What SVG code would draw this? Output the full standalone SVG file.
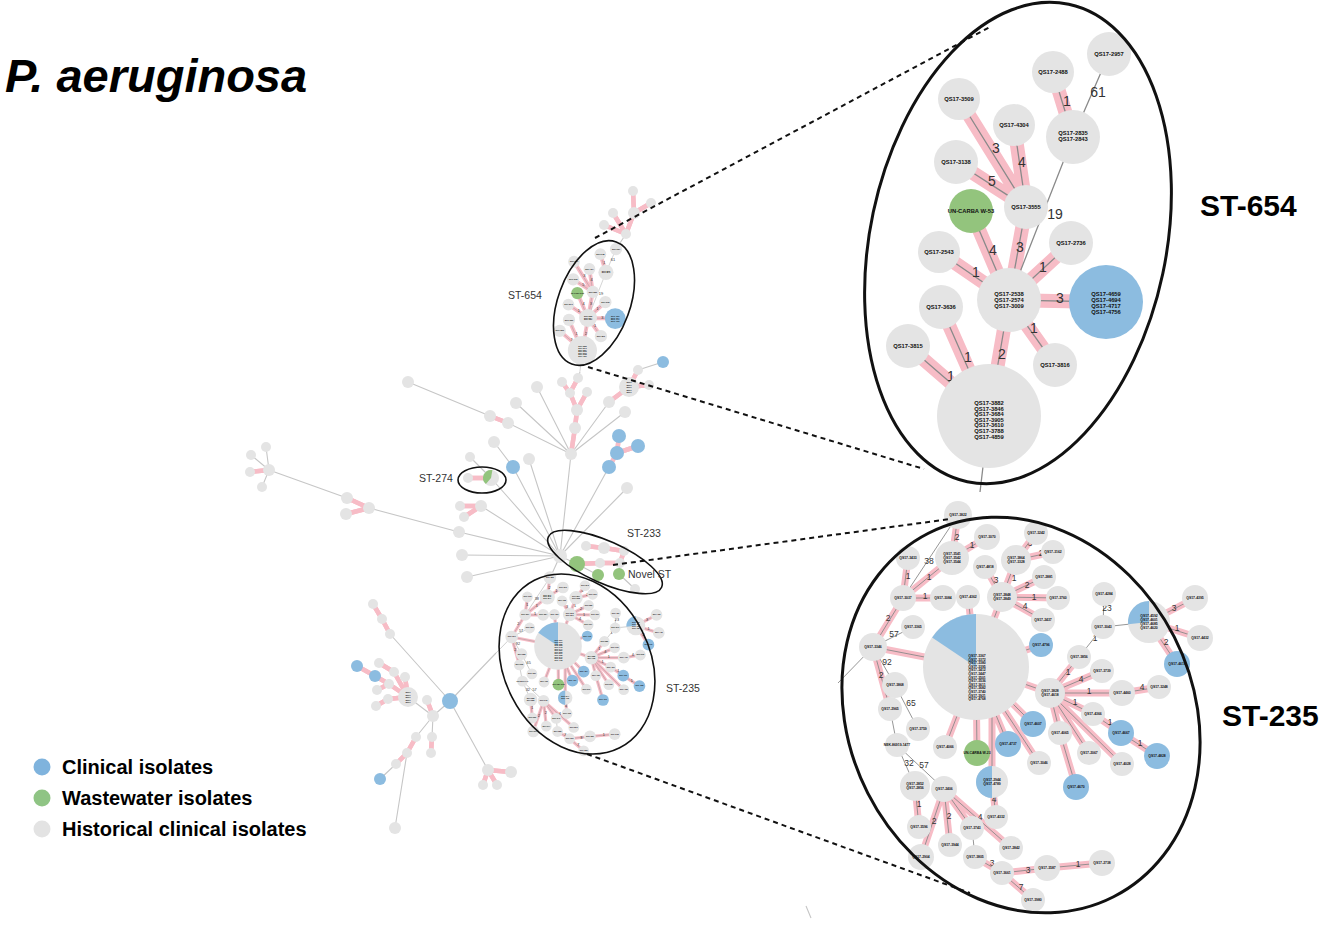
<svg xmlns="http://www.w3.org/2000/svg" xmlns:xlink="http://www.w3.org/1999/xlink" width="1325" height="925" viewBox="0 0 1325 925">
<style>
.g{fill:#e4e4e4}
.b{fill:#8cbce0}
.gr{fill:#93c47d}
.el{fill:none;stroke:#111}
.dash{stroke:#111;stroke-width:2;stroke-dasharray:5 4;fill:none}
.ml{fill:none;stroke:#c6c6c6;stroke-width:1.1}
.mp{fill:none;stroke:#f7bcc6;stroke-width:4.5}
.mc{fill:none;stroke:#aaa;stroke-width:0.5}
.l6{font:bold 5.8px "Liberation Sans",Arial,sans-serif;fill:#111;text-anchor:middle}
.l3{font:bold 3.4px "Liberation Sans",Arial,sans-serif;fill:#111;text-anchor:middle}
.lt{font:bold 2px "Liberation Sans",Arial,sans-serif;fill:#111;text-anchor:middle}
.n13{font:14px "Liberation Sans",Arial,sans-serif;fill:#333;text-anchor:middle}
.n8{font:8.5px "Liberation Sans",Arial,sans-serif;fill:#333;text-anchor:middle}
.st{font:10.5px "Liberation Sans",Arial,sans-serif;fill:#333}
.big{font:bold 30px "Liberation Sans",Arial,sans-serif;fill:#000}
.leg{font:bold 20px "Liberation Sans",Arial,sans-serif;fill:#000}
</style>
<defs>
<path id="p654" d="M1053 72L1073 137M959 99L1026 207M1014 125L1026 207M956 162L1026 207M971 211L1009 300M1026 207L1009 300M1071 243L1009 300M939 252L1009 300M1009 300L1106 302M1009 300L1055 365M1009 300L989 416M941 307L989 416M908 346L989 416"/>
<path id="p235" d="M958 515L952 558M952 558L987 537M952 558L903 598M908 558L903 598M903 598L943 598M903 598L873 647M873 647L976 667M873 647L890 709M915 786L919 827M944 789L921 857M944 789L950 845M944 789L1011 848M944 789L972 828M975 857L1002 873M1002 873L1047 868M1047 868L1102 863M1002 873L1033 900M992 782L996 817M992 782L992 700M945 747L976 667M977 753L976 667M1008 744L976 667M1039 763L976 667M1033 724L976 667M968 597L976 667M1002 597L976 667M1041 645L976 667M1050 693L976 667M1002 597L985 567M1002 597L1016 560M1002 597L1044 577M1002 597L1058 598M1002 597L1043 620M1016 560L1036 533M1016 560L1053 552M1050 693L1079 657M1050 693L1102 671M1050 693L1122 693M1050 693L1093 714M1050 693L1060 733M1050 693L1089 753M1050 693L1122 764M1060 733L1076 787M1093 714L1121 733M1121 733L1157 756M1122 693L1159 687M1149 622L1195 598M1149 622L1200 638M1149 622L1177 664"/>
</defs>

<text x="5" y="92" font-family="Liberation Sans, Arial, sans-serif" font-size="47" font-weight="bold" font-style="italic" fill="#000">P. aeruginosa</text>

<!-- ST-654 zoomed cluster -->
<g id="z654">
<g id="z654-edges">
<use xlink:href="#p654" href="#p654" fill="none" stroke="#f7bcc6" stroke-width="14"/>
<use xlink:href="#p654" href="#p654" fill="none" stroke="#8a8a8a" stroke-width="1.3"/>
<path d="M1109 54L1073 137M1073 137L1009 300M989 416L980 492" fill="none" stroke="#8a8a8a" stroke-width="1.3"/>
<text class="n13" x="1067" y="106">1</text>
<text class="n13" x="1098" y="97">61</text>
<text class="n13" x="996" y="153">3</text>
<text class="n13" x="1022" y="167">4</text>
<text class="n13" x="992" y="186">5</text>
<text class="n13" x="1055" y="219">19</text>
<text class="n13" x="993" y="255">4</text>
<text class="n13" x="1020" y="252">3</text>
<text class="n13" x="1043" y="272">1</text>
<text class="n13" x="976" y="277">1</text>
<text class="n13" x="1060" y="303">3</text>
<text class="n13" x="1034" y="333">1</text>
<text class="n13" x="1002" y="359">2</text>
<text class="n13" x="968" y="362">1</text>
<text class="n13" x="951" y="381">1</text>
</g>
<g id="z654-nodes">
<g id="q2957"><circle class="g" cx="1109" cy="54" r="22"/><text class="l6" x="1109" y="56">QS17-2957</text></g>
<g id="q2488"><circle class="g" cx="1053" cy="72" r="21"/><text class="l6" x="1053" y="74">QS17-2488</text></g>
<g id="q3509"><circle class="g" cx="959" cy="99" r="21"/><text class="l6" x="959" y="101">QS17-3509</text></g>
<g id="q4304"><circle class="g" cx="1014" cy="125" r="21"/><text class="l6" x="1014" y="127">QS17-4304</text></g>
<g id="q2835"><circle class="g" cx="1073" cy="137" r="27"/><text class="l6" x="1073" y="135">QS17-2835</text><text class="l6" x="1073" y="141">QS17-2843</text></g>
<g id="q3138"><circle class="g" cx="956" cy="162" r="22"/><text class="l6" x="956" y="164">QS17-3138</text></g>
<g id="q3555"><circle class="g" cx="1026" cy="207" r="22"/><text class="l6" x="1026" y="209">QS17-3555</text></g>
<g id="w53"><circle class="gr" cx="971" cy="211" r="22"/><text class="l6" x="971" y="213">UN-CARBA W-53</text></g>
<g id="q2736"><circle class="g" cx="1071" cy="243" r="22"/><text class="l6" x="1071" y="245">QS17-2736</text></g>
<g id="q2543"><circle class="g" cx="939" cy="252" r="21"/><text class="l6" x="939" y="254">QS17-2543</text></g>
<g id="q2538"><circle class="g" cx="1009" cy="300" r="32"/><text class="l6" x="1009" y="296">QS17-2538</text><text class="l6" x="1009" y="302">QS17-2574</text><text class="l6" x="1009" y="308">QS17-3009</text></g>
<g id="q4659"><circle class="b" cx="1106" cy="302" r="37"/><text class="l6" x="1106" y="296">QS17-4659</text><text class="l6" x="1106" y="302">QS17-4694</text><text class="l6" x="1106" y="308">QS17-4717</text><text class="l6" x="1106" y="314">QS17-4756</text></g>
<g id="q3636"><circle class="g" cx="941" cy="307" r="22"/><text class="l6" x="941" y="309">QS17-3636</text></g>
<g id="q3815"><circle class="g" cx="908" cy="346" r="22"/><text class="l6" x="908" y="348">QS17-3815</text></g>
<g id="q3816"><circle class="g" cx="1055" cy="365" r="22"/><text class="l6" x="1055" y="367">QS17-3816</text></g>
<g id="q3882"><circle class="g" cx="989" cy="416" r="52"/><text class="l6" x="989" y="405">QS17-3882</text><text class="l6" x="989" y="410.6">QS17-3846</text><text class="l6" x="989" y="416.2">QS17-3684</text><text class="l6" x="989" y="421.8">QS17-3905</text><text class="l6" x="989" y="427.4">QS17-3610</text><text class="l6" x="989" y="433">QS17-3788</text><text class="l6" x="989" y="438.6">QS17-4859</text></g>
</g>
</g>

<!-- ST-235 zoomed cluster -->
<g id="z235">
<g id="z235-edges">
<use xlink:href="#p235" href="#p235" fill="none" stroke="#f7bcc6" stroke-width="7"/>
<use xlink:href="#p235" href="#p235" fill="none" stroke="#8a8a8a" stroke-width="0.9"/>
<path d="M903 598L958 515M873 647L913 627M873 647L895 685M873 647L838 683M895 685L918 729M890 709L897 745M897 745L915 786M897 745L944 789M972 828L975 857M1079 657L1103 627M1103 627L1104 594M1103 627L1149 622" fill="none" stroke="#8a8a8a" stroke-width="0.9"/>
<text class="n8" x="957" y="540">2</text>
<text class="n8" x="972" y="548">1</text>
<text class="n8" x="929" y="564">38</text>
<text class="n8" x="929" y="580">1</text>
<text class="n8" x="908" y="579">1</text>
<text class="n8" x="925" y="599">1</text>
<text class="n8" x="888" y="621">2</text>
<text class="n8" x="894" y="637">57</text>
<text class="n8" x="887" y="665">92</text>
<text class="n8" x="881" y="678">2</text>
<text class="n8" x="911" y="706">65</text>
<text class="n8" x="909" y="766">32</text>
<text class="n8" x="924" y="768">57</text>
<text class="n8" x="919" y="807">1</text>
<text class="n8" x="934" y="824">2</text>
<text class="n8" x="949" y="819">2</text>
<text class="n8" x="980" y="820">4</text>
<text class="n8" x="994" y="802">4</text>
<text class="n8" x="992" y="866">3</text>
<text class="n8" x="1028" y="873">3</text>
<text class="n8" x="1078" y="867">1</text>
<text class="n8" x="1021" y="890">7</text>
<text class="n8" x="996" y="583">3</text>
<text class="n8" x="1014" y="581">1</text>
<text class="n8" x="1027" y="588">2</text>
<text class="n8" x="1034" y="600">1</text>
<text class="n8" x="1025" y="609">4</text>
<text class="n8" x="1030" y="546">3</text>
<text class="n8" x="1041" y="556">2</text>
<text class="n8" x="1068" y="675">1</text>
<text class="n8" x="1081" y="682">4</text>
<text class="n8" x="1089" y="694">1</text>
<text class="n8" x="1075" y="705">1</text>
<text class="n8" x="1110" y="725">1</text>
<text class="n8" x="1140" y="746">1</text>
<text class="n8" x="1142" y="690">4</text>
<text class="n8" x="1095" y="641">1</text>
<text class="n8" x="1107" y="611">23</text>
<text class="n8" x="1174" y="611">3</text>
<text class="n8" x="1177" y="631">1</text>
<text class="n8" x="1166" y="645">2</text>
</g>
<g id="z235-nodes">
<g id="r3822"><circle class="g" cx="958" cy="515" r="14"/><text class="l3" x="958" y="516">QS17-3822</text></g>
<g id="r3070"><circle class="g" cx="987" cy="537" r="13"/><text class="l3" x="987" y="538">QS17-3070</text></g>
<g id="r3541"><circle class="g" cx="952" cy="558" r="17"/><text class="l3" x="952" y="555">QS17-3541</text><text class="l3" x="952" y="559">QS17-3542</text><text class="l3" x="952" y="563">QS17-3544</text></g>
<g id="r3433"><circle class="g" cx="908" cy="558" r="12"/><text class="l3" x="908" y="559">QS17-3433</text></g>
<g id="r3037"><circle class="g" cx="903" cy="598" r="13"/><text class="l3" x="903" y="599">QS17-3037</text></g>
<g id="r3084"><circle class="g" cx="943" cy="598" r="13"/><text class="l3" x="943" y="599">QS17-3084</text></g>
<g id="r4362"><circle class="g" cx="968" cy="597" r="12"/><text class="l3" x="968" y="598">QS17-4362</text></g>
<g id="r4818"><circle class="g" cx="985" cy="567" r="12"/><text class="l3" x="985" y="568">QS17-4818</text></g>
<g id="r3864"><circle class="g" cx="1016" cy="560" r="15"/><text class="l3" x="1016" y="559">QS17-3864</text><text class="l3" x="1016" y="563">QS17-3328</text></g>
<g id="r3242"><circle class="g" cx="1036" cy="533" r="12"/><text class="l3" x="1036" y="534">QS17-3242</text></g>
<g id="r3162"><circle class="g" cx="1053" cy="552" r="12"/><text class="l3" x="1053" y="553">QS17-3162</text></g>
<g id="r2881"><circle class="g" cx="1044" cy="577" r="12"/><text class="l3" x="1044" y="578">QS17-2881</text></g>
<g id="r2848"><circle class="g" cx="1002" cy="597" r="15"/><text class="l3" x="1002" y="596">QS17-2848</text><text class="l3" x="1002" y="600">QS17-2849</text></g>
<g id="r3760"><circle class="g" cx="1058" cy="598" r="12"/><text class="l3" x="1058" y="599">QS17-3760</text></g>
<g id="r2437"><circle class="g" cx="1043" cy="620" r="12"/><text class="l3" x="1043" y="621">QS17-2437</text></g>
<g id="r3365"><circle class="g" cx="913" cy="627" r="12"/><text class="l3" x="913" y="628">QS17-3365</text></g>
<g id="r3346"><circle class="g" cx="873" cy="647" r="14"/><text class="l3" x="873" y="648">QS17-3346</text></g>
<g id="pie235"><circle class="g" cx="976" cy="667" r="53"/><path class="b" d="M976 667L976 614A53 53 0 0 0 932.1 637.4Z"/>
<text class="l3" x="977" y="657">QS17-3367</text><text class="l3" x="977" y="660.6">QS17-3372</text><text class="l3" x="977" y="664.2">QS17-3380</text><text class="l3" x="977" y="667.8">QS17-3395</text><text class="l3" x="977" y="671.4">QS17-3412</text><text class="l3" x="977" y="675">QS17-3447</text><text class="l3" x="977" y="678.6">QS17-3501</text><text class="l3" x="977" y="682.2">QS17-3536</text><text class="l3" x="977" y="685.8">QS17-3611</text><text class="l3" x="977" y="689.4">QS17-3682</text><text class="l3" x="977" y="693">QS17-3740</text><text class="l3" x="977" y="696.6">QS17-3921</text><text class="l3" x="977" y="700.2">QS17-4768</text></g>
<g id="r4796"><circle class="b" cx="1041" cy="645" r="12"/><text class="l3" x="1041" y="646">QS17-4796</text></g>
<g id="r3856"><circle class="g" cx="1079" cy="657" r="12"/><text class="l3" x="1079" y="658">QS17-3856</text></g>
<g id="r3828"><circle class="g" cx="1050" cy="693" r="15"/><text class="l3" x="1050" y="692">QS17-3828</text><text class="l3" x="1050" y="696">QS17-4618</text></g>
<g id="r3868"><circle class="g" cx="895" cy="685" r="13"/><text class="l3" x="895" y="686">QS17-3868</text></g>
<g id="r4284"><circle class="g" cx="1104" cy="594" r="12"/><text class="l3" x="1104" y="595">QS17-4284</text></g>
<g id="r3043"><circle class="g" cx="1103" cy="627" r="12"/><text class="l3" x="1103" y="628">QS17-3043</text></g>
<g id="pie2"><circle class="g" cx="1149" cy="622" r="21"/><path class="b" d="M1149 622L1149 601A21 21 0 0 0 1128.1 624.2Z"/><text class="l3" x="1149" y="617">QS17-4592</text><text class="l3" x="1149" y="621">QS17-4601</text><text class="l3" x="1149" y="625">QS17-4685</text><text class="l3" x="1149" y="629">QS17-4620</text></g>
<g id="r4395"><circle class="g" cx="1195" cy="598" r="13"/><text class="l3" x="1195" y="599">QS17-4395</text></g>
<g id="r4432"><circle class="g" cx="1200" cy="638" r="13"/><text class="l3" x="1200" y="639">QS17-4432</text></g>
<g id="r4619"><circle class="b" cx="1177" cy="664" r="13"/><text class="l3" x="1177" y="665">QS17-4619</text></g>
<g id="r3739"><circle class="g" cx="1102" cy="671" r="12"/><text class="l3" x="1102" y="672">QS17-3739</text></g>
<g id="r4460"><circle class="g" cx="1122" cy="693" r="13"/><text class="l3" x="1122" y="694">QS17-4460</text></g>
<g id="r3248"><circle class="g" cx="1159" cy="687" r="12"/><text class="l3" x="1159" y="688">QS17-3248</text></g>
<g id="r4366"><circle class="g" cx="1093" cy="714" r="12"/><text class="l3" x="1093" y="715">QS17-4366</text></g>
<g id="r4667"><circle class="b" cx="1121" cy="733" r="13"/><text class="l3" x="1121" y="734">QS17-4667</text></g>
<g id="r4828"><circle class="b" cx="1157" cy="756" r="13"/><text class="l3" x="1157" y="757">QS17-4828</text></g>
<g id="r4065"><circle class="g" cx="1060" cy="733" r="12"/><text class="l3" x="1060" y="734">QS17-4065</text></g>
<g id="r2067"><circle class="g" cx="1089" cy="753" r="12"/><text class="l3" x="1089" y="754">QS17-2067</text></g>
<g id="r4028"><circle class="g" cx="1122" cy="764" r="12"/><text class="l3" x="1122" y="765">QS17-4028</text></g>
<g id="r2965"><circle class="g" cx="890" cy="709" r="12"/><text class="l3" x="890" y="710">QS17-2965</text></g>
<g id="r3759"><circle class="g" cx="918" cy="729" r="12"/><text class="l3" x="918" y="730">QS17-3759</text></g>
<g id="rnek"><circle class="g" cx="897" cy="745" r="12"/><text class="l3" x="897" y="746">NEK-86919-1477</text></g>
<g id="r4066"><circle class="g" cx="945" cy="747" r="12"/><text class="l3" x="945" y="748">QS17-4066</text></g>
<g id="w23"><circle class="gr" cx="977" cy="753" r="13"/><text class="l3" x="977" y="754">UN-CARBA W-23</text></g>
<g id="r4737"><circle class="b" cx="1008" cy="744" r="13"/><text class="l3" x="1008" y="745">QS17-4737</text></g>
<g id="r4607"><circle class="b" cx="1033" cy="724" r="13"/><text class="l3" x="1033" y="725">QS17-4607</text></g>
<g id="r3046"><circle class="g" cx="1039" cy="763" r="12"/><text class="l3" x="1039" y="764">QS17-3046</text></g>
<g id="r4670"><circle class="b" cx="1076" cy="787" r="13"/><text class="l3" x="1076" y="788">QS17-4670</text></g>
<g id="hp"><circle class="g" cx="992" cy="782" r="16"/><path class="b" d="M992 766A16 16 0 0 0 992 798Z"/><text class="l3" x="992" y="781">QS17-2944</text><text class="l3" x="992" y="785">QS17-4789</text></g>
<g id="r2852"><circle class="g" cx="915" cy="786" r="15"/><text class="l3" x="915" y="785">QS17-2852</text><text class="l3" x="915" y="789">QS17-2856</text></g>
<g id="r2406"><circle class="g" cx="944" cy="789" r="13"/><text class="l3" x="944" y="790">QS17-2406</text></g>
<g id="r4332"><circle class="g" cx="996" cy="817" r="12"/><text class="l3" x="996" y="818">QS17-4332</text></g>
<g id="r3596"><circle class="g" cx="919" cy="827" r="12"/><text class="l3" x="919" y="828">QS17-3596</text></g>
<g id="r3743"><circle class="g" cx="972" cy="828" r="12"/><text class="l3" x="972" y="829">QS17-3743</text></g>
<g id="r3944"><circle class="g" cx="950" cy="845" r="12"/><text class="l3" x="950" y="846">QS17-3944</text></g>
<g id="r2842"><circle class="g" cx="1011" cy="848" r="12"/><text class="l3" x="1011" y="849">QS17-2842</text></g>
<g id="r2904"><circle class="g" cx="921" cy="857" r="13"/><text class="l3" x="921" y="858">QS17-2904</text></g>
<g id="r3805"><circle class="g" cx="975" cy="857" r="12"/><text class="l3" x="975" y="858">QS17-3805</text></g>
<g id="r3661"><circle class="g" cx="1002" cy="873" r="12"/><text class="l3" x="1002" y="874">QS17-3661</text></g>
<g id="r3587"><circle class="g" cx="1047" cy="868" r="13"/><text class="l3" x="1047" y="869">QS17-3587</text></g>
<g id="r2738"><circle class="g" cx="1102" cy="863" r="13"/><text class="l3" x="1102" y="864">QS17-2738</text></g>
<g id="r3980"><circle class="g" cx="1033" cy="900" r="12"/><text class="l3" x="1033" y="901">QS17-3980</text></g>
</g>
</g>

<!-- main tree connectors -->
<g id="connectors">
<path class="ml" d="M626 234L616 249M580 372L578 378M571 454L537 387M571 454L516 403M571 454L508 423M490 416L408 382M571 454L609 402M571 454L625 412M638 370L663 362M571 454L560 556M560 556L609 467M560 556L627 488M560 556L529 459M494 442L513 467M513 467L560 556M470 457L491 478M491 478L560 556M481 506L560 556M459 532L560 556M462 555L560 556M467 577L560 556M269 470L266 447M269 470L251 455M269 470L262 487M269 470L347 498M369 508L459 532M560 556L577 564M577 564L598 575M620 563L619 574M619 574L635 589M560 556L550 578M450 701L390 634M450 701L496 653M450 701L433 716M408 697L433 716M433 716L416 737M433 716L432 737M396 764L380 779M407 753L395 828M450 701L488 770M806 906L811 918"/>
<path id="mpk" class="mp" d="M633 191L634 213M634 213L651 203M634 213L626 234M613 213L626 234M604 225L626 234M562 382L570 393M578 378L570 393M570 393L577 410M587 392L577 410M577 410L575 428M575 428L571 454M490 416L508 423M609 402L629 387M629 387L638 370M629 387L649 385M619 436L617 453M617 453L638 446M617 453L609 467M468 478L491 478M460 506L481 506M464 517L481 506M250 472L269 470M347 498L369 508M346 514L369 508M586 546L604 548M604 548L624 551M624 551L620 563M600 563L620 563M577 564L600 563M390 634L382 619M382 619L373 604M433 716L427 700M408 697L394 672M408 697L405 677M408 697L389 684M408 697L388 699M379 663L394 672M377 690L389 684M376 706L388 699M375 676L389 684M357 666L375 676M432 737L431 753M416 737L407 753M407 753L396 764M488 770L511 772M488 770L483 785M488 770L497 785"/>
<use xlink:href="#mpk" href="#mpk" class="mc"/>
</g>

<!-- small replicas of the zoomed clusters -->
<use xlink:href="#z654" href="#z654" transform="translate(305.5 234) scale(0.28)"/>
<use xlink:href="#z235" href="#z235" transform="translate(118.8 345.85) scale(0.45)"/>

<!-- main tree nodes -->
<g id="main-nodes">
<g id="a1"><circle class="g" cx="633" cy="191" r="5"/></g>
<g id="a2"><circle class="g" cx="634" cy="213" r="6"/></g>
<g id="a3"><circle class="g" cx="651" cy="203" r="5"/></g>
<g id="a4"><circle class="g" cx="613" cy="213" r="5"/></g>
<g id="a5"><circle class="g" cx="604" cy="225" r="5"/></g>
<g id="a6"><circle class="g" cx="626" cy="234" r="5"/></g>
<g id="p1"><circle class="g" cx="562" cy="382" r="5"/></g>
<g id="p2"><circle class="g" cx="578" cy="378" r="5"/></g>
<g id="p3"><circle class="g" cx="570" cy="393" r="5"/></g>
<g id="p4"><circle class="g" cx="587" cy="392" r="5"/></g>
<g id="p5"><circle class="g" cx="577" cy="410" r="6"/></g>
<g id="p6"><circle class="g" cx="575" cy="428" r="6"/></g>
<g id="h1"><circle class="g" cx="571" cy="454" r="6"/></g>
<g id="h0"><circle class="g" cx="560" cy="556" r="7"/></g>
<g id="u1"><circle class="g" cx="537" cy="387" r="6"/></g>
<g id="u2"><circle class="g" cx="516" cy="403" r="6"/></g>
<g id="u3"><circle class="g" cx="408" cy="382" r="6"/></g>
<g id="u4"><circle class="g" cx="490" cy="416" r="6"/></g>
<g id="u5"><circle class="g" cx="508" cy="423" r="6"/></g>
<g id="r1"><circle class="g" cx="609" cy="402" r="6"/></g>
<g id="bn"><circle class="g" cx="629" cy="387" r="10"/><text class="lt" x="629" y="383">QS17</text><text class="lt" x="629" y="385.5">QS17</text><text class="lt" x="629" y="388">QS17</text><text class="lt" x="629" y="390.5">QS17</text><text class="lt" x="629" y="393">QS17</text></g>
<g id="r2"><circle class="g" cx="638" cy="370" r="5"/></g>
<g id="r3"><circle class="g" cx="649" cy="385" r="5"/></g>
<g id="rb"><circle class="b" cx="663" cy="362" r="6"/></g>
<g id="r4"><circle class="g" cx="625" cy="412" r="6"/></g>
<g id="bb1"><circle class="b" cx="619" cy="436" r="7"/></g>
<g id="bb2"><circle class="b" cx="617" cy="453" r="7"/></g>
<g id="bb3"><circle class="b" cx="638" cy="446" r="7"/></g>
<g id="bb4"><circle class="b" cx="609" cy="467" r="7"/></g>
<g id="q1"><circle class="g" cx="627" cy="488" r="6"/></g>
<g id="q2"><circle class="g" cx="529" cy="459" r="6"/></g>
<g id="q3"><circle class="g" cx="494" cy="442" r="6"/></g>
<g id="q4"><circle class="b" cx="513" cy="467" r="7"/></g>
<g id="s74a"><circle class="g" cx="468" cy="478" r="5"/></g>
<g id="s74u"><circle class="g" cx="470" cy="457" r="5"/></g>
<g id="s74p"><circle class="g" cx="491" cy="478" r="8"/><path class="gr" d="M491 478L492.4 470.1A8 8 0 0 0 485.9 484.1Z"/></g>
<g id="t1"><circle class="g" cx="460" cy="506" r="5"/></g>
<g id="t2"><circle class="g" cx="481" cy="506" r="6"/></g>
<g id="t3"><circle class="g" cx="464" cy="517" r="5"/></g>
<g id="l1"><circle class="g" cx="459" cy="532" r="6"/></g>
<g id="l2"><circle class="g" cx="462" cy="555" r="6"/></g>
<g id="l3"><circle class="g" cx="467" cy="577" r="6"/></g>
<g id="c1"><circle class="g" cx="266" cy="447" r="5"/></g>
<g id="c2"><circle class="g" cx="251" cy="455" r="5"/></g>
<g id="c3"><circle class="g" cx="250" cy="472" r="5"/></g>
<g id="c4"><circle class="g" cx="269" cy="470" r="6"/></g>
<g id="c5"><circle class="g" cx="262" cy="487" r="5"/></g>
<g id="f1"><circle class="g" cx="347" cy="498" r="6"/></g>
<g id="f2"><circle class="g" cx="346" cy="514" r="6"/></g>
<g id="f3"><circle class="g" cx="369" cy="508" r="6"/></g>
<g id="s1"><circle class="g" cx="586" cy="546" r="5"/></g>
<g id="s2"><circle class="g" cx="604" cy="548" r="6"/></g>
<g id="s3"><circle class="g" cx="624" cy="551" r="5"/></g>
<g id="s4"><circle class="g" cx="600" cy="563" r="5"/></g>
<g id="s5"><circle class="g" cx="620" cy="563" r="5"/></g>
<g id="g1"><circle class="gr" cx="577" cy="564" r="8"/></g>
<g id="g2"><circle class="gr" cx="598" cy="575" r="6"/></g>
<g id="g3"><circle class="gr" cx="619" cy="574" r="6"/></g>
<g id="s6"><circle class="g" cx="635" cy="589" r="5"/></g>
<g id="B"><circle class="b" cx="450" cy="701" r="8"/></g>
<g id="k1"><circle class="g" cx="390" cy="634" r="5"/></g>
<g id="k2"><circle class="g" cx="382" cy="619" r="5"/></g>
<g id="k3"><circle class="g" cx="373" cy="604" r="5"/></g>
<g id="m1"><circle class="g" cx="433" cy="716" r="6"/></g>
<g id="m2"><circle class="g" cx="427" cy="700" r="5"/></g>
<g id="bn2"><circle class="g" cx="408" cy="697" r="10"/><text class="lt" x="408" y="693">QS17</text><text class="lt" x="408" y="695.5">QS17</text><text class="lt" x="408" y="698">QS17</text><text class="lt" x="408" y="700.5">QS17</text><text class="lt" x="408" y="703">QS17</text></g>
<g id="v1"><circle class="g" cx="379" cy="663" r="5"/></g>
<g id="v2"><circle class="g" cx="394" cy="672" r="5"/></g>
<g id="v3"><circle class="g" cx="405" cy="677" r="5"/></g>
<g id="v4"><circle class="g" cx="389" cy="684" r="5"/></g>
<g id="v5"><circle class="g" cx="377" cy="690" r="5"/></g>
<g id="v6"><circle class="g" cx="388" cy="699" r="5"/></g>
<g id="v7"><circle class="g" cx="376" cy="706" r="5"/></g>
<g id="vb1"><circle class="b" cx="375" cy="676" r="6"/></g>
<g id="vb2"><circle class="b" cx="357" cy="666" r="6"/></g>
<g id="w1"><circle class="g" cx="416" cy="737" r="5"/></g>
<g id="w2"><circle class="g" cx="432" cy="737" r="5"/></g>
<g id="w3"><circle class="g" cx="431" cy="753" r="5"/></g>
<g id="w4"><circle class="g" cx="407" cy="753" r="5"/></g>
<g id="w5"><circle class="g" cx="396" cy="764" r="5"/></g>
<g id="wb"><circle class="b" cx="380" cy="779" r="6"/></g>
<g id="w6"><circle class="g" cx="395" cy="828" r="6"/></g>
<g id="x1"><circle class="g" cx="488" cy="770" r="6"/></g>
<g id="x2"><circle class="g" cx="511" cy="772" r="6"/></g>
<g id="x3"><circle class="g" cx="483" cy="785" r="5"/></g>
<g id="x4"><circle class="g" cx="497" cy="785" r="5"/></g>
</g>

<!-- ellipses, dashed links, labels -->
<g id="outlines">
<ellipse class="el" stroke-width="3" cx="1018" cy="243" rx="148" ry="244" transform="rotate(12 1018 243)"/>
<ellipse class="el" stroke-width="3" cx="1021" cy="715" rx="172" ry="204" transform="rotate(-27 1021 715)"/>
<ellipse class="el" stroke-width="1.6" cx="594" cy="303" rx="36" ry="65" transform="rotate(20 594 303)"/>
<ellipse class="el" stroke-width="1.6" cx="577" cy="664" rx="73" ry="94" transform="rotate(-27 577 664)"/>
<ellipse class="el" stroke-width="1.6" cx="482" cy="480" rx="24" ry="13"/>
<ellipse class="el" stroke-width="1.6" cx="605" cy="562" rx="62" ry="21" transform="rotate(24 605 562)"/>
<path class="dash" d="M595 238L990 27M588 367L924 469M613 565L950 519M587 754L970 893"/>
</g>
<g id="labels">
<text class="st" x="508" y="299">ST-654</text>
<text class="st" x="419" y="482">ST-274</text>
<text class="st" x="627" y="537">ST-233</text>
<text class="st" x="666" y="692">ST-235</text>
<text class="st" x="628" y="578" font-size="8.5">Novel ST</text>
<text class="big" x="1200" y="216">ST-654</text>
<text class="big" x="1222" y="726">ST-235</text>
</g>
<g id="legend">
<g id="leg-clin"><circle cx="42" cy="767" r="8.5" fill="#7fb3dd"/><text class="leg" x="62" y="774">Clinical isolates</text></g>
<g id="leg-ww"><circle cx="42" cy="798" r="8.5" fill="#8fc484"/><text class="leg" x="62" y="805">Wastewater isolates</text></g>
<g id="leg-hist"><circle cx="42" cy="829" r="8.5" fill="#e3e3e3"/><text class="leg" x="62" y="836">Historical clinical isolates</text></g>
</g>
</svg>
